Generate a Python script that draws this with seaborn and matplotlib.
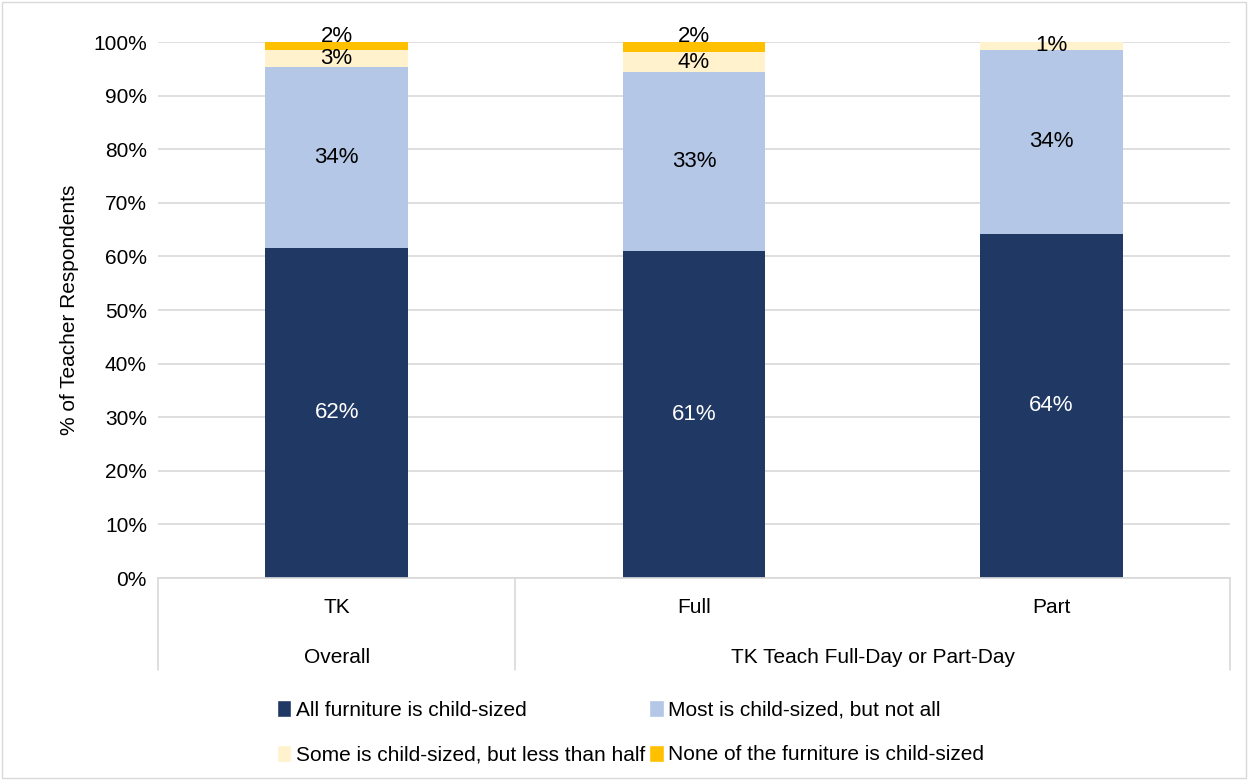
import numpy as np
import pandas as pd
import seaborn as sns
import matplotlib.pyplot as plt
from matplotlib.patches import Patch

# data
groups = ['Overall', 'TK Teach Full-Day or Part-Day']
categories = ['TK', 'Full', 'Part']
cat_group = [0, 1, 1]
responses = ['All furniture is child-sized',
             'Most is child-sized, but not all',
             'Some is child-sized, but less than half',
             'None of the furniture is child-sized']
all_child = [61.6, 61.0, 64.2]
most_child = [33.7, 33.4, 34.4]
some_child = [3.2, 3.7, 1.4]
none_child = [1.5, 1.9, 0.0]
colors = ['#203864', '#B4C7E7', '#FFF2CC', '#FFC000']
label_colors = ['white', 'black', 'black', 'black']

sns.set_theme(style='white')
plt.rcParams['font.family'] = ['Liberation Sans', 'DejaVu Sans']
plt.rcParams['text.color'] = 'black'
plt.rcParams['axes.labelcolor'] = 'black'
plt.rcParams['ytick.color'] = 'black'

fig = plt.figure(figsize=(12.48, 7.8), dpi=100)
ax = fig.add_axes([158/1248, 1-578/780, (1230-158)/1248, (578-42)/780])

#stacked bars, draw cumulative sums from the top layer down
layers = np.array([all_child, most_child, some_child, none_child]) / 100
cum = np.cumsum(layers, axis=0)
df = pd.DataFrame({'cat': categories})
for i in range(len(responses)-1, -1, -1):
    df['val'] = cum[i]
    sns.barplot(data=df, x='cat', y='val', color=colors[i], width=0.40,
                saturation=1, ax=ax, zorder=2, linewidth=0)

# value labels
for j in range(len(categories)):
    for i in range(len(responses)):
        v = layers[i, j]
        if v <= 0:
            continue
        y = cum[i, j] - v/2
        if i == 3:
            y = cum[i, j] + 0.01
        ax.text(j, y, f'{v*100:.0f}%', ha='center', va='center', fontsize=16,
                color=label_colors[i], zorder=3)

ax.set_ylim(0, 1)
ax.set_xlim(-0.5, 2.5)
ax.set_yticks(np.arange(0, 1.01, 0.1))
ax.set_yticklabels([f'{t*100:.0f}%' for t in np.arange(0, 1.01, 0.1)], fontsize=15)
ax.yaxis.grid(True, color='#D9D9D9', lw=1.2, zorder=0)
ax.set_axisbelow(True)
for s in ['top', 'right', 'left']:
    ax.spines[s].set_visible(False)
ax.spines['bottom'].set_color('#D9D9D9')
ax.tick_params(axis='y', length=0, pad=8)
ax.set_xticks([])
ax.set_xlabel('')
ax.set_ylabel('% of Teacher Respondents', fontsize=15, labelpad=10)

# two level category axis
trans = ax.get_xaxis_transform()
for j, c in enumerate(categories):
    ax.text(j, -0.055, c, transform=trans, ha='center', va='center', fontsize=15)
for g, name in enumerate(groups):
    idx = [j for j in range(len(categories)) if cat_group[j] == g]
    ax.text(np.mean(idx), -0.148, name, transform=trans, ha='center', va='center', fontsize=15)
for xb in [-0.5, 0.5, 2.5]:
    ax.plot([xb, xb], [0, -0.172], transform=trans, color='#D9D9D9', lw=1.2, clip_on=False)

# legend, filled row by row like the original
handles = [Patch(facecolor=colors[i], label=responses[i]) for i in [0, 2, 1, 3]]
fig.legend(handles=handles, loc='center', bbox_to_anchor=(0.505, 1-732/780), ncol=2,
           frameon=False, fontsize=15, handlelength=0.7, handleheight=0.9,
           handletextpad=0.2, columnspacing=0.2, labelspacing=1.2)

fig.patches.append(plt.Rectangle((0.002, 0.002), 0.996, 0.996, transform=fig.transFigure,
                                 fill=False, edgecolor='#D9D9D9', lw=1))

fig.savefig('out.png', dpi=100)
